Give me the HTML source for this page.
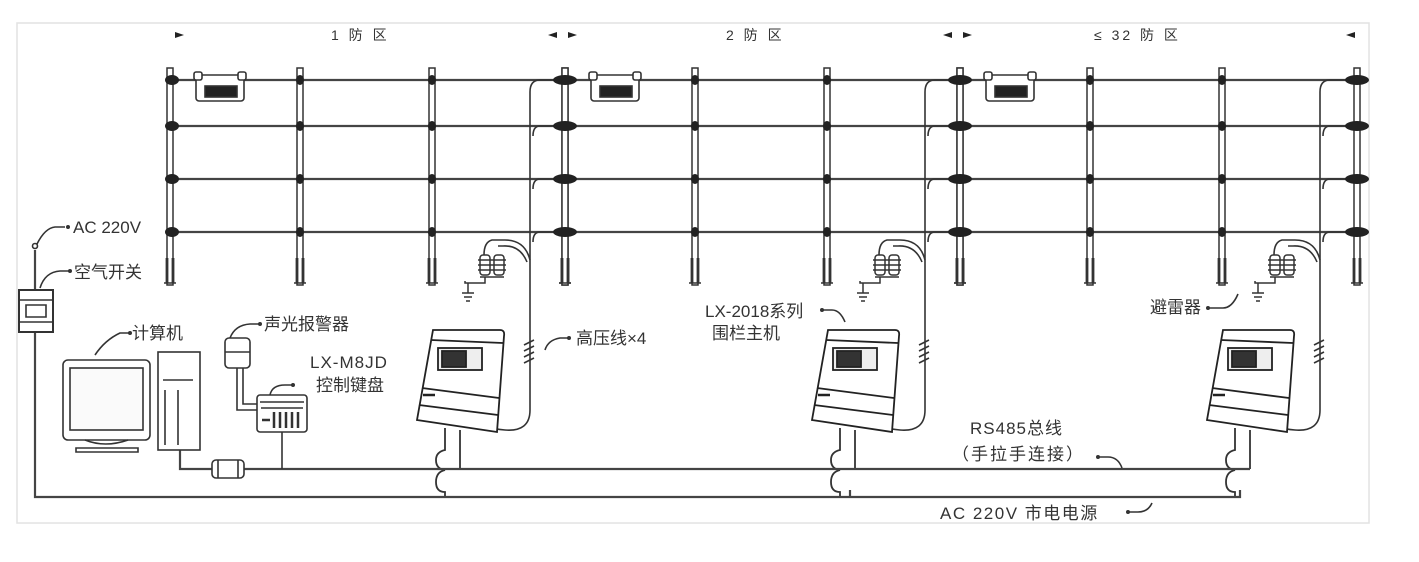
<!DOCTYPE html>
<html><head><meta charset="utf-8"><style>
html,body{margin:0;padding:0;background:#fff;width:1419px;height:562px;overflow:hidden}
svg{display:block}
text{font-family:"Liberation Sans","Noto Sans CJK SC",sans-serif;fill:#333}
</style></head><body>
<svg width="1419" height="562" viewBox="0 0 1419 562" xmlns="http://www.w3.org/2000/svg">
<defs>
<g id="post" stroke="#333" fill="none">
  <rect x="-3" y="68" width="6" height="217" stroke-width="1.5" fill="#fff"/>
  <line x1="-3" y1="258" x2="-3" y2="283" stroke-width="2.8"/>
  <line x1="3" y1="258" x2="3" y2="283" stroke-width="2.8"/>
  <line x1="-6" y1="283" x2="6" y2="283" stroke-width="1.5"/>
</g>
<g id="zone">
  <use href="#post" x="170"/><use href="#post" x="300"/><use href="#post" x="432"/>
  <g fill="#222">
    <ellipse cx="300" cy="80" rx="4" ry="5"/><ellipse cx="300" cy="126" rx="4" ry="5"/><ellipse cx="300" cy="179" rx="4" ry="5"/><ellipse cx="300" cy="232" rx="4" ry="5"/>
    <ellipse cx="432" cy="80" rx="4" ry="5"/><ellipse cx="432" cy="126" rx="4" ry="5"/><ellipse cx="432" cy="179" rx="4" ry="5"/><ellipse cx="432" cy="232" rx="4" ry="5"/>
  </g>
  <g stroke="#333" fill="#fff" stroke-width="1.6">
    <rect x="196" y="75" width="48" height="26" rx="3"/>
    <rect x="194" y="72" width="8" height="8" rx="2"/><rect x="238" y="72" width="8" height="8" rx="2"/>
    <rect x="205" y="86" width="32" height="11" fill="#222"/>
  </g>
  <g stroke="#333" fill="none" stroke-width="1.6">
    <path d="M556 80 H540 Q530 80 530 92 V410 Q530 432 505 430 Q482 428 480 420"/>
    <path d="M556 126 H540 Q533 126 533 136"/>
    <path d="M556 179 H540 Q533 179 533 189"/>
    <path d="M556 232 H540 Q533 232 533 242"/>
    <path d="M530 260 Q525 240 505 240 H492 Q484 242 484 255"/>
    <path d="M527 262 Q520 245 503 246 H498"/>
    <path d="M524 345 l10 -5 M524 351 l10 -5 M524 357 l10 -5 M524 363 l10 -5"/>
  </g>
  <g stroke="#333" fill="#fff" stroke-width="1.5">
    <rect x="480" y="255" width="10" height="20" rx="3"/><rect x="494" y="255" width="10" height="20" rx="3"/>
    <path d="M478 260 h14 M478 265 h14 M478 270 h14 M492 260 h14 M492 265 h14 M492 270 h14"/>
    <path d="M480 277 h24 M485 277 v6 h-20 v-2" fill="none"/>
    <path d="M468 283 v10 M462 293 h12 M464 297 h8 M466 301 h4" fill="none"/>
  </g>
  <g stroke="#222" stroke-width="1.8" fill="#fff">
    <path d="M433 330 H500 Q505 330 504 336 L497 432 L417 420 Z"/>
    <path d="M431 340 L503 343" fill="none"/>
    <path d="M422 388 L499 398" fill="none"/>
    <path d="M419 405 L498 415" fill="none"/>
    <rect x="438" y="348" width="44" height="22" fill="#eee"/>
    <rect x="442" y="351" width="24" height="16" fill="#333"/>
    <path d="M423 395 h12" stroke-width="2.5"/>
  </g>
  <g stroke="#333" stroke-width="1.8" fill="none">
    <path d="M445 428 V450 Q436 452 436 460 Q436 469 445 470 Q436 472 436 482 Q436 492 445 492 V497"/>
    <path d="M460 430 V469"/>
  </g>
</g>
<g id="bpost">
  <use href="#post" x="0"/>
  <g fill="#222"><ellipse cx="0" cy="80" rx="12" ry="5"/><ellipse cx="0" cy="126" rx="12" ry="5"/><ellipse cx="0" cy="179" rx="12" ry="5"/><ellipse cx="0" cy="232" rx="12" ry="5"/></g>
</g>
</defs>
<rect x="17" y="23" width="1352" height="500" fill="#fff" stroke="#e2e2e2" stroke-width="1.5"/>
<g stroke="#444" stroke-width="2.2">
  <line x1="170" y1="80" x2="1360" y2="80"/><line x1="170" y1="126" x2="1360" y2="126"/>
  <line x1="170" y1="179" x2="1360" y2="179"/><line x1="170" y1="232" x2="1360" y2="232"/>
</g>
<use href="#zone"/><use href="#zone" x="395"/><use href="#zone" x="790"/>
<use href="#bpost" x="565"/><use href="#bpost" x="960"/><use href="#bpost" x="1357"/>
<g fill="#222"><ellipse cx="172" cy="80" rx="7" ry="5"/><ellipse cx="172" cy="126" rx="7" ry="5"/><ellipse cx="172" cy="179" rx="7" ry="5"/><ellipse cx="172" cy="232" rx="7" ry="5"/></g>
<g fill="#222">
  <path d="M175 32 l9 3 -9 3z"/><path d="M557 32 l-9 3 9 3z M568 32 l9 3 -9 3z"/>
  <path d="M952 32 l-9 3 9 3z M963 32 l9 3 -9 3z"/><path d="M1355 32 l-9 3 9 3z"/>
</g>
<text x="331" y="40" font-size="14" fill="#555" letter-spacing="3">1 防 区</text>
<text x="726" y="40" font-size="14" fill="#555" letter-spacing="3">2 防 区</text>
<text x="1094" y="40" font-size="14" fill="#555" letter-spacing="3">≤ 32 防 区</text>
<g stroke="#444" stroke-width="2.2" fill="none">
  <path d="M180 440 V469 H1250"/>
  <path d="M35 250 V497 H1240 V490"/>
  <line x1="850" y1="490" x2="850" y2="497"/>
</g>
<g stroke="#333" stroke-width="1.6" fill="none">
  <circle cx="35" cy="246" r="2.5"/>
  <path d="M37 244 Q45 228 55 227 h10"/>
  <path d="M40 288 Q45 272 60 271 h10"/>
  <rect x="19" y="290" width="34" height="42" fill="#fff" stroke-width="2"/>
  <path d="M19 300 h34 M19 322 h34 M26 305 h20 v12 h-20z"/>
  <path d="M95 355 Q105 340 120 333 h10"/>
  <rect x="63" y="360" width="87" height="80" rx="5" fill="#fff"/>
  <rect x="70" y="368" width="73" height="62" fill="#fafafa"/>
  <path d="M85 440 Q105 448 128 440 M76 448 h62 v4 h-62z"/>
  <rect x="158" y="352" width="42" height="98" fill="#fff"/>
  <path d="M163 380 h30 M165 390 v55 M178 390 v55"/>
  <path d="M230 338 Q235 325 250 324 h10"/>
  <rect x="225" y="338" width="25" height="30" rx="4" fill="#fff"/>
  <path d="M225 352 h25 M237 368 V410 H258 M243 368 V404 H258"/>
  <rect x="257" y="395" width="50" height="37" rx="3" fill="#fff"/>
  <path d="M260 402 h44 M261 408 h42"/>
  <path d="M262 420 h8 M274 412 v16 M280 412 v16 M286 412 v16 M292 412 v16 M298 412 v16" stroke-width="2.5"/>
  <path d="M282 432 V469"/>
  <path d="M270 395 Q272 385 285 385 h8"/>
  <rect x="212" y="460" width="32" height="18" rx="4" fill="#fff"/>
  <path d="M218 460 v18 M238 460 v18"/>
</g>
<g fill="#333">
  <circle cx="68" cy="227" r="2"/><circle cx="70" cy="271" r="2"/><circle cx="130" cy="333" r="2"/>
  <circle cx="260" cy="324" r="2"/><circle cx="293" cy="385" r="2"/>
</g>
<text x="73" y="233" font-size="17">AC 220V</text>
<text x="74" y="278" font-size="17">空气开关</text>
<text x="132" y="339" font-size="17">计算机</text>
<text x="264" y="330" font-size="17">声光报警器</text>
<text x="310" y="368" font-size="17" letter-spacing="1">LX-M8JD</text>
<text x="316" y="391" font-size="17">控制键盘</text>
<path d="M545 350 Q548 340 560 338 h8" stroke="#333" stroke-width="1.6" fill="none"/>
<circle cx="569" cy="338" r="2" fill="#333"/>
<text x="576" y="344" font-size="17">高压线×4</text>
<text x="705" y="317" font-size="17">LX-2018系列</text>
<text x="712" y="339" font-size="17">围栏主机</text>
<path d="M822 310 h10 Q840 310 845 322" stroke="#333" stroke-width="1.6" fill="none"/>
<circle cx="822" cy="310" r="2" fill="#333"/>
<text x="1150" y="313" font-size="17">避雷器</text>
<path d="M1208 308 h15 Q1232 308 1238 294" stroke="#333" stroke-width="1.6" fill="none"/>
<circle cx="1208" cy="308" r="2" fill="#333"/>
<text x="970" y="434" font-size="17" letter-spacing="1">RS485总线</text>
<text x="952" y="460" font-size="17" letter-spacing="2">（手拉手连接）</text>
<path d="M1098 457 h10 Q1118 457 1122 468" stroke="#333" stroke-width="1.6" fill="none"/>
<circle cx="1098" cy="457" r="2" fill="#333"/>
<text x="940" y="519" font-size="17" letter-spacing="1.5">AC 220V 市电电源</text>
<path d="M1128 512 h10 Q1148 512 1152 503" stroke="#333" stroke-width="1.6" fill="none"/>
<circle cx="1128" cy="512" r="2" fill="#333"/>
</svg>
</body></html>
